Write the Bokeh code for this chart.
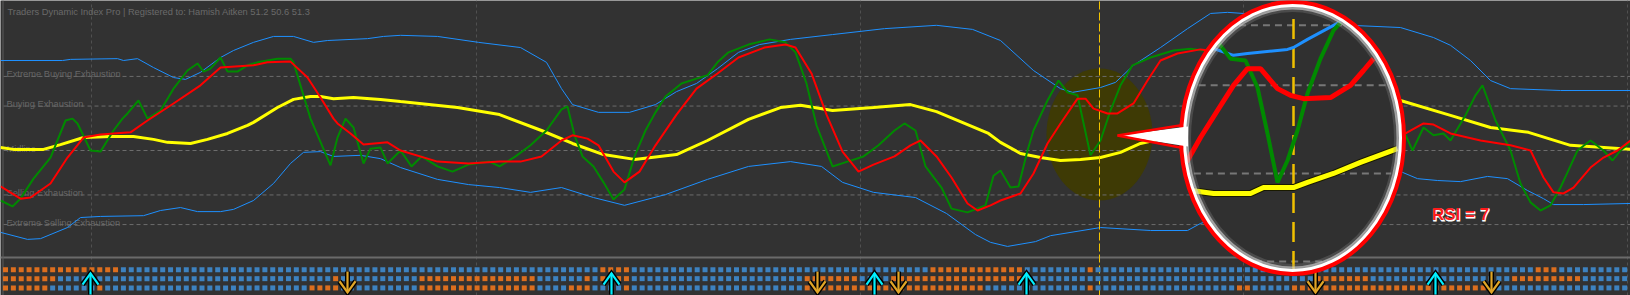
import numpy as np
from bokeh.plotting import figure
from bokeh.models import Range1d
from bokeh.core.properties import value
from bokeh.embed import file_html
from bokeh.resources import INLINE

BG = "#323232"
FONT = value("Liberation Sans")

# ---------------- data ----------------
title_text = "Traders Dynamic Index Pro | Registered to: Hamish Aitken 51.2 50.6 51.3"
level_values = [70, 62, 50, 38, 30]
level_names = ["Extreme Buying Exhaustion", "Buying Exhaustion", "Midline",
               "Selling Exhaustion", "Extreme Selling Exhaustion"]
grid_times = [91, 476, 860, 1243, 1627]
cursor_time = 1099

upper_x = [0, 62, 70, 117, 123, 137, 153, 173, 185, 200, 220, 233, 253, 273, 293, 313, 327, 367, 383, 400,
           437, 478, 520, 546, 561, 572, 598, 629, 655, 676, 696, 717, 738, 759, 790, 832, 884, 936, 972, 1000,
           1033, 1060, 1072, 1100, 1115, 1133, 1160, 1187, 1210, 1227, 1243, 1300, 1350, 1400, 1433, 1450, 1470,
           1490, 1510, 1560, 1630]
upper_v = [74.3, 74.3, 74.6, 74.8, 74.3, 74.8, 72.4, 69.7, 69.2, 71.1, 75.1, 77.0, 79.2, 80.8, 80.8, 79.2, 79.7,
           80.2, 80.8, 81.1, 80.8, 79.2, 77.8, 73.8, 66.7, 62.4, 60.3, 60.3, 62.4, 65.9, 68.1, 72.1, 76.5, 78.6,
           80.0, 81.3, 82.9, 83.8, 82.7, 79.7, 71.6, 66.7, 65.7, 67.0, 68.4, 73.0, 77.8, 82.9, 87.0, 87.3, 87.0,
           85.9, 83.8, 83.2, 80.5, 78.4, 74.3, 68.9, 66.7, 66.2, 66.2]

lower_x = [0, 27, 40, 67, 80, 100, 143, 160, 180, 197, 220, 233, 253, 273, 290, 303, 320, 333, 360, 380,
           400, 437, 468, 499, 530, 561, 593, 624, 665, 707, 748, 790, 821, 842, 873, 915, 946, 975, 990, 1007,
           1035, 1050, 1100, 1150, 1187, 1200, 1300, 1402, 1417, 1437, 1460, 1487, 1507, 1527, 1543, 1553, 1583,
           1630]
lower_v = [27.9, 26.0, 26.2, 29.2, 31.9, 32.2, 32.4, 33.8, 34.6, 33.5, 33.5, 34.1, 36.5, 41.1, 46.5, 49.5, 49.7,
           48.4, 48.7, 47.8, 45.4, 42.2, 40.8, 40.0, 38.7, 40.0, 37.3, 35.2, 38.1, 42.2, 45.7, 47.0, 45.7, 41.4,
           38.7, 37.3, 33.0, 27.3, 25.2, 24.1, 25.4, 27.0, 29.2, 28.4, 28.4, 30.3, 39.2, 44.1, 42.4, 41.9, 41.6,
           43.0, 42.4, 39.2, 37.0, 35.4, 35.4, 35.7]

base_x = [0, 13, 43, 60, 83, 110, 133, 153, 167, 190, 207, 227, 247, 253, 277, 293, 310, 320, 333, 353,
          380, 400, 457, 499, 541, 572, 603, 634, 676, 707, 748, 780, 800, 832, 873, 910, 936, 988, 1000, 1020,
          1040, 1060, 1080, 1100, 1120, 1140, 1153, 1200, 1300, 1350, 1400, 1450, 1490, 1528, 1570, 1630]
base_v = [50.8, 50.3, 50.3, 51.6, 53.5, 53.8, 53.8, 53.0, 52.2, 51.9, 53.0, 54.6, 56.8, 57.6, 61.6, 63.8, 64.6,
          64.6, 64.0, 64.3, 63.8, 63.2, 61.6, 59.7, 55.4, 51.9, 48.9, 47.6, 48.9, 52.7, 58.4, 61.6, 62.2, 60.8,
          61.6, 62.4, 60.5, 54.6, 52.2, 49.2, 48.1, 47.3, 47.6, 48.1, 49.5, 51.9, 52.7, 56.8, 63.0, 64.3, 63.5,
          59.5, 56.2, 54.9, 51.4, 50.3]

rsi_line = [(0, 36.5), (12, 34.9), (20, 37.0), (33, 42.4), (50, 48.1), (65, 58.1), (72, 58.6), (77, 57.3),
            (90, 50.0), (100, 49.7), (113, 55.4), (122, 58.6), (127, 60.0), (138, 63.5), (147, 58.6), (160, 60.8),
            (173, 66.7), (187, 71.6), (197, 73.5), (203, 71.3), (210, 72.1), (220, 75.1), (227, 71.3), (237, 71.3),
            (247, 73.0), (257, 73.8), (267, 74.3), (277, 74.8), (290, 74.8), (293, 73.8), (310, 58.6), (330, 46.0),
            (337, 53.5), (345, 58.6), (353, 56.2), (363, 46.5), (370, 50.5), (380, 50.8), (387, 46.5), (400, 50.0),
            (411, 45.7), (421, 48.4), (437, 45.7), (452, 44.3), (468, 46.2), (489, 47.0), (499, 45.7), (515, 48.4),
            (530, 51.4), (546, 55.4), (561, 61.1), (567, 61.9), (574, 54.1), (582, 48.4), (593, 45.7), (603, 41.4),
            (613, 36.8), (624, 39.5), (634, 48.4), (645, 55.4), (655, 60.3), (665, 64.6), (681, 68.1), (696, 69.4),
            (707, 70.3), (717, 73.8), (728, 76.5), (748, 78.6), (769, 80.0), (785, 79.2), (795, 76.5), (806, 68.1),
            (816, 56.8), (832, 45.7), (847, 47.0), (863, 48.4), (878, 51.4), (894, 55.4), (904, 57.3), (915, 55.4),
            (925, 45.7), (941, 40.0), (951, 34.3), (967, 33.3), (985, 35.2), (993, 43.2), (1000, 44.6), (1010, 40.0),
            (1018, 40.3), (1027, 50.0), (1033, 55.4), (1047, 63.5), (1058, 68.9), (1067, 65.7), (1077, 64.9),
            (1090, 48.7), (1100, 52.7), (1110, 60.8), (1120, 67.6), (1132, 73.0), (1150, 75.1), (1173, 77.0),
            (1190, 77.5), (1203, 77.0), (1250, 71.6), (1300, 63.5), (1350, 58.1), (1403, 55.4), (1412, 50.0),
            (1423, 56.2), (1433, 54.1), (1443, 54.6), (1450, 52.7), (1465, 59.5), (1475, 64.9), (1482, 67.6),
            (1495, 58.1), (1510, 50.0), (1520, 41.1), (1530, 36.0), (1540, 33.8), (1550, 35.2), (1560, 40.0),
            (1567, 44.1), (1577, 50.0), (1590, 52.7), (1603, 50.0), (1612, 47.3), (1620, 50.0), (1630, 52.2)]

signal_line = [(0, 40.3), (20, 37.0), (30, 37.3), (50, 41.1), (67, 48.1), (83, 53.5), (100, 54.3), (130, 54.9),
               (147, 58.1), (173, 62.7), (200, 67.6), (220, 72.4), (253, 73.0), (267, 73.8), (290, 74.0),
               (307, 69.7), (320, 64.3), (333, 58.6), (337, 57.3), (350, 54.6), (363, 51.6), (387, 52.2),
               (400, 50.0), (437, 47.0), (468, 46.5), (499, 47.0), (520, 47.0), (541, 48.4), (561, 52.7),
               (572, 54.1), (587, 53.2), (598, 51.4), (613, 44.3), (624, 41.4), (639, 44.3), (655, 51.4),
               (676, 59.7), (696, 66.7), (717, 70.8), (738, 75.1), (764, 77.8), (785, 78.6), (795, 77.8),
               (811, 70.8), (826, 59.7), (842, 49.7), (858, 44.3), (873, 46.2), (894, 48.4), (910, 51.4),
               (920, 52.7), (936, 48.4), (951, 42.7), (967, 35.7), (977, 33.8), (990, 35.2), (1000, 36.5),
               (1020, 38.4), (1033, 43.8), (1047, 51.9), (1060, 57.3), (1077, 64.0), (1085, 64.0), (1093, 61.3),
               (1107, 60.0), (1117, 60.0), (1133, 62.7), (1147, 68.9), (1160, 74.3), (1177, 76.2), (1200, 77.3),
               (1250, 75.7), (1300, 67.6), (1350, 59.5), (1405, 54.6), (1423, 57.3), (1433, 57.0), (1450, 54.6),
               (1480, 52.7), (1510, 51.4), (1530, 50.0), (1543, 42.7), (1553, 38.7), (1563, 38.4), (1573, 40.0),
               (1590, 45.4), (1603, 48.1), (1617, 50.0), (1630, 52.7)]

# magnified view (inside the lens)
mag_upper = [(1210, 77.8), (1233, 75.7), (1247, 76.2), (1287, 77.3), (1293, 77.8), (1307, 80.0), (1340, 84.8)]
mag_rsi = [(1216, 79.7), (1230, 74.8), (1245, 74.3), (1257, 67.0), (1267, 54.6), (1277, 41.4), (1287, 47.3),
           (1297, 55.4), (1307, 65.4), (1320, 74.8), (1333, 82.4), (1340, 84.6)]
mag_signal = [(1186, 46.8), (1200, 53.5), (1217, 60.8), (1233, 67.6), (1247, 72.1), (1260, 72.1), (1277, 66.7),
              (1290, 64.9), (1303, 64.0), (1330, 64.3), (1350, 67.6), (1363, 71.6), (1373, 74.8)]
mag_base = [(1191, 39.2), (1213, 38.4), (1250, 38.4), (1263, 40.0), (1293, 40.0), (1307, 41.4), (1333, 43.8),
            (1360, 46.8), (1397, 50.5)]
mag_levels = [83.8, 67.6, 43.8, 20.0]
mag_cursor_time = 1293

# bottom signal strip: run lengths per row ("o" orange, "b" blue)
strip_row1 = [("o", 15), ("b", 61), ("o", 4), ("b", 38), ("o", 12), ("b", 8), ("o", 1), ("b", 56), ("o", 3), ("b", 9)]
strip_row2 = [("o", 7), ("b", 35), ("o", 1), ("b", 10), ("o", 15), ("b", 6), ("o", 1), ("b", 1), ("o", 4), ("b", 22),
              ("o", 7), ("b", 4), ("o", 17), ("b", 37), ("o", 7), ("b", 18), ("o", 9), ("b", 6)]
strip_row3 = [("o", 6), ("b", 6), ("o", 1), ("b", 26), ("o", 4), ("b", 10), ("o", 15), ("b", 4), ("o", 3), ("b", 4),
              ("o", 1), ("b", 22), ("o", 23), ("b", 13), ("o", 1), ("b", 18), ("o", 2), ("b", 5), ("o", 25), ("b", 18)]
up_arrows = [90, 611, 874, 1026, 1435]
down_arrows = [347, 817, 898, 1315, 1491]

# ---------------- layout constants ----------------
W, H = 1630, 295
Y0, Y1 = 10.85, 90.5
PX = (Y1 - Y0) / H          # value units per pixel
BAR0, BAR_STEP = 5, 7.86
ROW_V = [17.8, 15.4, 12.9]
SEP_V = 21.1

p = figure(width=W, height=H, x_range=Range1d(0, W), y_range=Range1d(Y0, Y1),
           output_backend="svg", toolbar_location=None, min_border=0,
           background_fill_color=BG, border_fill_color=BG, outline_line_color=None)
p.axis.visible = False
p.grid.visible = False

# highlight blob
p.ellipse(x=[cursor_time], y=[54.3], width=106, height=132 * PX, fill_color="#3f3b00",
          fill_alpha=0.9, line_color=None)

# grid
p.segment(x0=grid_times, y0=[Y0] * len(grid_times), x1=grid_times, y1=[Y1] * len(grid_times),
          line_color="#505050", line_width=1, line_dash="3 3")
p.segment(x0=[3] * 5, y0=level_values, x1=[W] * 5, y1=level_values,
          line_color="#6c6c6c", line_width=1, line_dash="4 3")
p.text(x=[6] * 5, y=level_values, text=level_names, text_font=FONT, text_font_size="9.3px",
       text_color="#666666", text_baseline="alphabetic", y_offset=-2)
p.text(x=[7], y=[Y1 - 11 * PX], text=[title_text], text_font=FONT, text_font_size="9.3px",
       text_color="#6a6a6a", text_baseline="alphabetic")
p.segment(x0=[0], y0=[SEP_V], x1=[W], y1=[SEP_V], line_color="#6a6a6a", line_width=2)
p.segment(x0=[2.5], y0=[Y0], x1=[2.5], y1=[Y1], line_color="#5a5a5a", line_width=1)

# indicator lines
p.line(upper_x, upper_v, line_color="#1e90ff", line_width=1)
p.line(lower_x, lower_v, line_color="#1e90ff", line_width=1)
p.line(base_x, base_v, line_color="#ffff00", line_width=3)
gx, gv = zip(*rsi_line)
p.line(gx, gv, line_color="#008a00", line_width=2)
rx, rv = zip(*signal_line)
p.line(rx, rv, line_color="#ff0000", line_width=2)

p.segment(x0=[cursor_time], y0=[Y0], x1=[cursor_time], y1=[Y1], line_color="#f2c300",
          line_width=1, line_dash="8 3")

# bottom strip
def expand(runs):
    return [c for c, n in runs for _ in range(n)]

colors = {"o": "#dc6e1e", "b": "#3d82c0"}
for rv_, runs in zip(ROW_V, [strip_row1, strip_row2, strip_row3]):
    cells = expand(runs)
    xs = BAR0 + BAR_STEP * np.arange(len(cells))
    p.scatter(x=xs, y=[rv_] * len(cells), marker="square", size=5,
              fill_color=[colors[c] for c in cells], line_color=None)

def arrows(xs, up, color):
    xs = np.array(xs, dtype=float)
    if up:
        tip, wing, tail = 16.8, 13.8, 11.1
    else:
        tip, wing, tail = 11.7, 14.7, 17.3
    for lw, col in ((5, "black"), (2.2, color)):
        p.segment(x0=xs, y0=[tail] * len(xs), x1=xs, y1=[tip] * len(xs), line_color=col, line_width=lw)
        p.multi_line(xs=[[x - 8, x, x + 8] for x in xs], ys=[[wing, tip, wing]] * len(xs),
                     line_color=col, line_width=lw, line_join="miter")

arrows(up_arrows, True, "#00f0ff")
arrows(down_arrows, False, "#e0a526")

# RSI label: white halo underneath, solid red on top
p.text(x=[1460], y=[32.7], text=["RSI = 7"], text_font=FONT, text_font_size="17px",
       text_font_style="bold", text_color="white", text_outline_color="white",
       text_align="center", text_baseline="middle", x_offset=0.5, y_offset=0.5)
p.text(x=[1460], y=[32.7], text=["RSI = 7"], text_font=FONT, text_font_size="17px",
       text_font_style="bold", text_color="#ff1a1a",
       text_align="center", text_baseline="middle")

# ---------------- magnifier lens ----------------
MCX, MCY, MW, MH = 1292, 53.4, 223, 272 * PX
p.ellipse(x=[MCX], y=[MCY], width=MW, height=MH, fill_color="#303030", line_color=None)
lv = np.array(mag_levels)
hw = (MW / 2) * np.sqrt(np.clip(1 - ((lv - MCY) / (MH / 2)) ** 2, 0, 1)) - 9
p.segment(x0=MCX - hw, y0=lv, x1=MCX + hw, y1=lv, line_color="#777777", line_width=2, line_dash="7 5")
p.segment(x0=[mag_cursor_time], y0=[MCY - MH / 2 + 3 * PX], x1=[mag_cursor_time], y1=[MCY + MH / 2 - 12 * PX],
          line_color="#f0c000", line_width=2.5, line_dash="20 9")
for pts, col, lw in ((mag_upper, "#1e90ff", 3), (mag_rsi, "#008a00", 4), (mag_signal, "#ff0000", 5)):
    xx, yy = zip(*pts)
    p.line(xx, yy, line_color=col, line_width=lw)
bx, by = zip(*mag_base)
p.line(bx, by, line_color="#1a1a00", line_width=7)
p.line(bx, by, line_color="#ffff00", line_width=5)

# lens rim: soft inner glow, white ring, red edge
for dw, col, lw, a in ((16, "#8a8a8a", 4, 0.3), (11, "#d0d0d0", 4, 0.65), (6, "#ffffff", 4, 1.0)):
    p.ellipse(x=[MCX], y=[MCY], width=MW - dw, height=MH - dw * PX, fill_color=None,
              line_color=col, line_width=lw, line_alpha=a)
p.ellipse(x=[MCX], y=[MCY], width=MW, height=MH, fill_color=None, line_color="#ff0000", line_width=4)

# callout pointer
base_x_ptr = MCX - MW / 2 + 7
tip = (1117, 54.05)
p.patch(x=[base_x_ptr, tip[0], base_x_ptr], y=[56.5, tip[1], 51.1], fill_color="white", line_color=None)
p.multi_line(xs=[[base_x_ptr - 5, tip[0]], [base_x_ptr - 5, tip[0]]], ys=[[56.9, tip[1]], [50.7, tip[1]]],
             line_color="#ff0000", line_width=2.5)

open("out.html", "w").write(file_html(p, INLINE))
